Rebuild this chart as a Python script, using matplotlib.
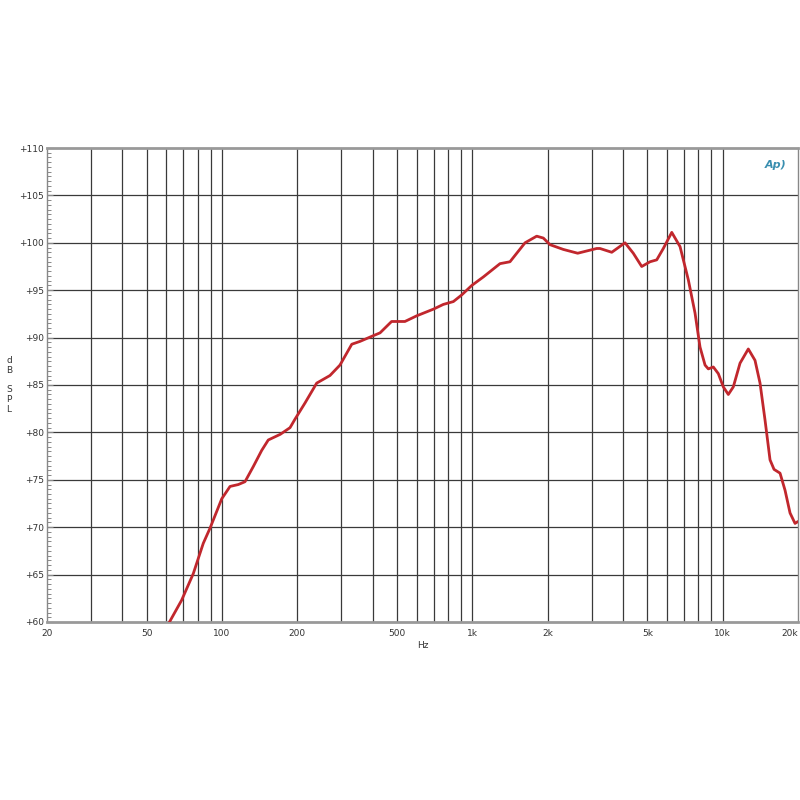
import numpy as np
import matplotlib
matplotlib.use('Agg')
import matplotlib.pyplot as plt
from matplotlib.ticker import FixedLocator, NullFormatter

############################################
freq = [61.4, 69, 76.8, 84.2, 89.6, 99.8, 107.7, 116.2, 123.6, 133.4, 144.1, 153.1,
        171, 187, 195.8, 214.6, 239, 270, 296, 330, 356, 402, 428, 476, 538, 600,
        699, 766, 840, 907, 995, 1107, 1290, 1414, 1624, 1808, 1922, 2044, 2310,
        2636, 3140, 3236, 3606, 4074, 4396, 4750, 5128, 5454, 5794, 6262, 6758,
        7292, 7756, 8122, 8506, 8766, 9178, 9610, 10062, 10536, 11030, 11734,
        12662, 13468, 14104, 14768, 15464, 16044, 16954, 17752, 18588, 19464, 20000]
spl = [59.9, 62.3, 65.1, 68.3, 69.9, 73.0, 74.3, 74.5, 74.8, 76.4, 78.1, 79.2,
       79.8, 80.5, 81.4, 83.1, 85.2, 86.0, 87.1, 89.3, 89.6, 90.2, 90.5, 91.7, 91.7, 92.3,
       93.0, 93.5, 93.8, 94.5, 95.5, 96.4, 97.8, 98.0, 100.0, 100.7, 100.5, 99.8, 99.3,
       98.9, 99.4, 99.4, 99.0, 100.0, 98.9, 97.5, 98.0, 98.2, 99.4, 101.1, 99.6,
       96.1, 92.6, 89.0, 87.1, 86.7, 86.9, 86.2, 84.8, 84.0, 84.8, 87.3,
       88.8, 87.6, 85.2, 81.3, 77.1, 76.1, 75.7, 73.9, 71.5, 70.4, 70.6]

grid_freqs = [30, 40, 50, 60, 70, 80, 90, 100, 200, 300, 400, 500, 600, 700, 800, 900,
              1000, 2000, 3000, 4000, 5000, 6000, 7000, 8000, 9000, 10000]
xtick_vals = [20, 50, 100, 200, 500, 1000, 2000, 5000, 10000, 20000]
xtick_labels = ['20', '50', '100', '200', '500', '1k', '2k', '5k', '10k', '20k']
ytick_vals = [60, 65, 70, 75, 80, 85, 90, 95, 100, 105, 110]
ytick_labels = ['+%d' % v for v in ytick_vals]
############################################

fig = plt.figure(figsize=(8, 8), dpi=100)
ax = fig.add_axes([47/800, 1-622/800, 751/800, 474/800])
ax.set_xscale('log')
ax.set_xlim(20, 20000)
ax.set_ylim(60, 110)

for g in grid_freqs:
    ax.axvline(g, color='#3a3a3a', lw=0.9, zorder=1)
for v in ytick_vals[1:-1]:
    ax.axhline(v, color='#3a3a3a', lw=0.9, zorder=1)

ax.plot(freq, spl, color='#c1272d', lw=2.0, zorder=3,
        solid_capstyle='round', solid_joinstyle='round')

ax.xaxis.set_major_locator(FixedLocator(xtick_vals))
ax.set_xticklabels(xtick_labels)
ax.xaxis.set_minor_formatter(NullFormatter())
ax.xaxis.set_minor_locator(FixedLocator([]))
ax.tick_params(axis='x', length=0, pad=5, labelsize=6.5, labelcolor='#333333')
ax.get_xticklabels()[-1].set_horizontalalignment('right')

ax.set_yticks(ytick_vals)
ax.set_yticklabels(ytick_labels)
ax.set_yticks(np.arange(60, 110.1, 0.5), minor=True)
ax.tick_params(axis='y', which='major', direction='in', length=4, width=0.8,
               color='#888888', pad=2, labelsize=6.5, labelcolor='#333333')
ax.tick_params(axis='y', which='minor', direction='in', length=3, width=0.7, color='#888888')

for side in ['top', 'bottom']:
    ax.spines[side].set_color('#999999')
    ax.spines[side].set_linewidth(2)
for side in ['left', 'right']:
    ax.spines[side].set_color('#888888')
    ax.spines[side].set_linewidth(1)

ax.set_xlabel('Hz', fontsize=6.5, color='#333333', labelpad=2)
fig.text(9/800, 1-385/800, 'd\nB\n\nS\nP\nL', fontsize=6.5, color='#333333',
         ha='center', va='center', linespacing=1.1)
ax.text(0.985, 0.975, 'Ap)', transform=ax.transAxes, fontsize=8, color='#3a8fb0',
        style='italic', ha='right', va='top', fontweight='bold')

plt.savefig('out.png', dpi=100)
